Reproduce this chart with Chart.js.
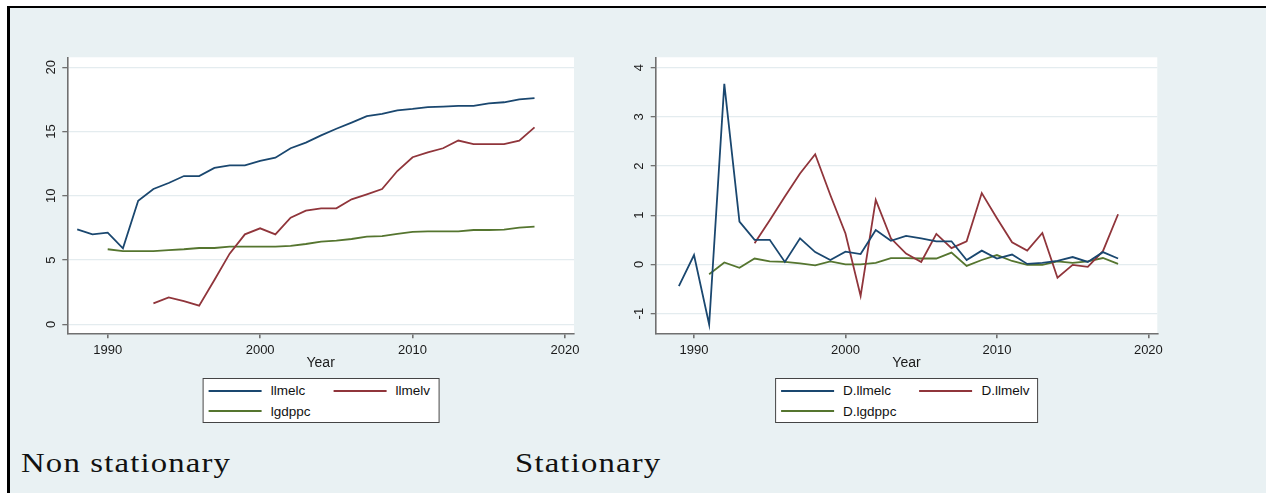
<!DOCTYPE html>
<html>
<head>
<meta charset="utf-8">
<script src="https://cdn.jsdelivr.net/npm/chart.js@4.4.1/dist/chart.umd.min.js"></script>
<style>
html,body{margin:0;padding:0;background:#fff;width:1266px;height:493px;overflow:hidden;}
#frame{position:absolute;left:7px;top:6px;width:1300px;height:520px;border-top:2px solid #000;border-left:3px solid #000;background:#e9f1f3;box-sizing:border-box;}
.chartbox{position:absolute;top:0;height:380px;}
.legend{position:absolute;transform:translateX(-50%);background:#fff;border:1px solid #444;box-sizing:border-box;height:45.2px;padding:2.5px 8px 0 5.5px;display:grid;grid-template-columns:auto auto;column-gap:23px;font:13.5px "Liberation Sans",Arial,sans-serif;color:#111;white-space:nowrap;}
.item{display:flex;align-items:center;height:19.5px;}
.swatch{width:53px;height:0;border-top:2px solid #000;margin-right:9px;}
.caption{position:absolute;top:449px;font-family:"Liberation Serif","Times New Roman",serif;font-size:28px;line-height:1;letter-spacing:1px;transform:scaleX(1.17);transform-origin:left top;color:#111;white-space:nowrap;}
</style>
</head>
<body>
<div id="frame"></div>
<div class="chartbox" style="left:0;width:600px"><canvas id="c1"></canvas></div>
<div class="chartbox" style="left:600px;width:620px"><canvas id="c2"></canvas></div>
<div class="legend" id="leg1" style="left:320.7px;top:377.5px"></div>
<div class="legend" id="leg2" style="left:906.5px;top:377.5px"></div>
<div class="caption" style="left:20.5px">Non stationary</div>
<div class="caption" style="left:515px">Stationary</div>
<script>
// ---- data ----
const years = [1988,1989,1990,1991,1992,1993,1994,1995,1996,1997,1998,1999,2000,2001,2002,2003,2004,2005,2006,2007,2008,2009,2010,2011,2012,2013,2014,2015,2016,2017,2018];

const llmelc = [7.39,7.0,7.13,5.91,9.62,10.53,11.0,11.54,11.54,12.17,12.37,12.37,12.71,12.97,13.7,14.14,14.7,15.22,15.7,16.2,16.37,16.65,16.76,16.9,16.94,17.0,17.0,17.2,17.28,17.5,17.6];
const llmelv = [null,null,null,null,null,1.63,2.1,1.8,1.45,3.45,5.5,7.0,7.47,7.0,8.3,8.85,9.03,9.03,9.73,10.12,10.53,11.93,13.0,13.38,13.7,14.3,14.03,14.03,14.03,14.3,15.33];
const lgdppc = [null,null,5.84,5.7,5.7,5.7,5.78,5.84,5.94,5.94,6.04,6.04,6.04,6.04,6.1,6.25,6.43,6.52,6.64,6.82,6.87,7.03,7.19,7.24,7.24,7.24,7.34,7.34,7.37,7.52,7.6];

const d_llmelc = [null,-0.44,0.19,-1.22,3.67,0.87,0.5,0.5,0.05,0.53,0.25,0.09,0.26,0.21,0.7,0.48,0.58,0.53,0.47,0.47,0.09,0.28,0.12,0.2,0.01,0.03,0.07,0.15,0.05,0.25,0.12];
const d_llmelv = [null,null,null,null,null,null,0.43,0.9,1.38,1.85,2.24,1.41,0.63,-0.64,1.31,0.53,0.22,0.05,0.62,0.33,0.47,1.45,0.94,0.45,0.28,0.64,-0.27,-0.01,-0.05,0.27,1.02];
const d_lgdppc = [null,null,null,-0.2,0.04,-0.07,0.12,0.06,0.05,0.02,-0.02,0.06,0.0,0.0,0.03,0.13,0.13,0.12,0.12,0.24,-0.03,0.09,0.19,0.07,-0.01,-0.01,0.06,0.03,0.06,0.13,0.01];

const xTickValues = [1990,2000,2010,2020];
const leftYTicks = [0,5,10,15,20];
const rightYTicks = [-1,0,1,2,3,4];

const leftLabels = ['llmelc','llmelv','lgdppc'];
const rightLabels = ['D.llmelc','D.llmelv','D.lgdppc'];
const colors = ['#1a476f','#90353b','#55752f'];

// ---- helpers ----
const AXIS = '#707070';
const GRID = '#e4ecef';
const TXT = '#1a1a1a';
const FONT = '"Liberation Sans", Arial, sans-serif';

const plotBg = {
  id: 'plotBg',
  beforeDraw(chart) {
    const {ctx, chartArea: a} = chart;
    ctx.save();
    ctx.fillStyle = '#ffffff';
    ctx.fillRect(a.left, a.top, a.right - a.left, a.bottom - a.top);
    ctx.restore();
  }
};

function makeChart(id, series, labels, yTicks, xr, yr, pad, yPad) {
  const ds = series.map((s, i) => ({
    label: labels[i], data: s, borderColor: colors[i], backgroundColor: colors[i],
    borderWidth: 1.8, pointRadius: 0, tension: 0, spanGaps: false, fill: false
  }));
  return new Chart(document.getElementById(id), {
    type: 'line',
    data: {labels: years, datasets: ds},
    plugins: [plotBg],
    options: {
      responsive: true, maintainAspectRatio: false, animation: false,
      devicePixelRatio: 1,
      layout: {padding: pad},
      plugins: {legend: {display: false}, tooltip: {enabled: false}},
      events: [],
      scales: {
        x: {
          type: 'linear', min: xr[0], max: xr[1],
          afterBuildTicks: s => { s.ticks = xTickValues.map(v => ({value: v})); },
          afterFit: s => { s.height = 40; },
          ticks: {font: {family: FONT, size: 13}, color: TXT, padding: 4.6, maxRotation: 0, autoSkip: false,
                  callback: v => String(v)},
          grid: {drawOnChartArea: false, drawTicks: true, tickLength: 5, color: AXIS, lineWidth: 1.6},
          border: {display: true, color: AXIS, width: 1.6},
          title: {display: true, text: 'Year', color: TXT, font: {family: FONT, size: 14}, padding: {top: 0, bottom: 2.2}}
        },
        y: {
          type: 'linear', min: yr[0], max: yr[1],
          afterBuildTicks: s => { s.ticks = yTicks.map(v => ({value: v})); },
          afterFit: s => { s.width = 40; },
          ticks: {font: {family: FONT, size: 13}, color: TXT, padding: yPad, minRotation: 90, maxRotation: 90,
                  crossAlign: 'center', autoSkip: false, callback: v => String(v)},
          grid: {drawOnChartArea: true, drawTicks: true, tickLength: 5, color: GRID, tickColor: AXIS, lineWidth: 1.3},
          border: {display: true, color: AXIS, width: 1.6}
        }
      }
    }
  });
}

function buildLegend(chart, elId) {
  const el = document.getElementById(elId);
  chart.data.datasets.forEach(d => {
    const it = document.createElement('div');
    it.className = 'item';
    const sw = document.createElement('div');
    sw.className = 'swatch';
    sw.style.borderTopColor = d.borderColor;
    const tx = document.createElement('span');
    tx.textContent = d.label;
    it.appendChild(sw); it.appendChild(tx);
    el.appendChild(it);
  });
}

const c1 = makeChart('c1', [llmelc, llmelv, lgdppc], leftLabels, leftYTicks,
  [1987.35, 2020.59], [-0.70, 20.78],
  {top: 57.3, left: 27.3, right: 26, bottom: 6.7}, 4.1);
const c2 = makeChart('c2', [d_llmelc, d_llmelv, d_lgdppc], rightLabels, rightYTicks,
  [1987.47, 2020.59], [-1.40, 4.21],
  {top: 57.3, left: 15.7, right: 62.7, bottom: 6.7}, 5.6);

buildLegend(c1, 'leg1');
buildLegend(c2, 'leg2');
</script>
</body>
</html>
